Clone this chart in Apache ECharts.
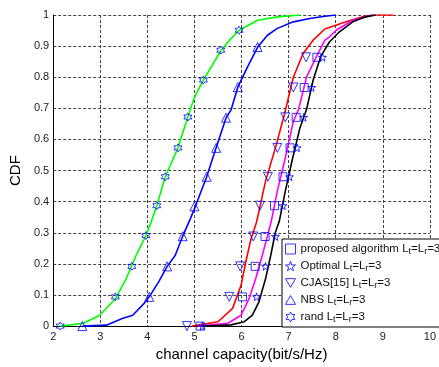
<!DOCTYPE html>
<html>
<head>
<meta charset="utf-8">
<script src="https://cdn.jsdelivr.net/npm/echarts@6/dist/echarts.min.js"></script>
<style>html,body{margin:0;padding:0;background:#fff}#c{width:439px;height:367px}</style>
</head>
<body>
<div id="c"></div>
<script>
// ---- data ----
var xTicks = [2,3,4,5,6,7,8,9,10];
var yTicks = [0,0.1,0.2,0.3,0.4,0.5,0.6,0.7,0.8,0.9,1];
var legendNames = ['proposed algorithm','Optimal','CJAS[15]','NBS','rand'];

// rand (green)
var randX = [2.15,2.64,2.99,3.32,3.55,3.76,3.97,4.08,4.20,4.38,4.65,4.86,4.98,5.08,5.19,5.56,5.78,5.95,6.34,6.76,7.25];
var randY = [0,0.009,0.035,0.088,0.152,0.227,0.291,0.335,0.387,0.48,0.573,0.672,0.727,0.759,0.791,0.885,0.925,0.951,0.983,0.994,1.0];
var randMkX = [2.15,3.32,3.67,3.97,4.20,4.38,4.65,4.86,5.19,5.56,5.95];
var randMkY = [0,0.094,0.192,0.291,0.387,0.48,0.573,0.672,0.791,0.887,0.951];

// NBS (blue)
var nbsX = [2.62,3.13,3.48,3.69,3.93,4.04,4.24,4.42,4.59,4.75,4.91,5.02,5.26,5.46,5.67,5.78,5.92,6.13,6.34,6.55,6.76,7.10,7.45,7.77,8.01];
var nbsY = [0,0.003,0.025,0.035,0.073,0.094,0.142,0.192,0.227,0.289,0.344,0.385,0.48,0.573,0.669,0.696,0.768,0.834,0.896,0.935,0.957,0.978,0.989,0.996,1.0];
var nbsMkX = [2.62,4.04,4.42,4.75,5.0,5.26,5.46,5.67,5.92,6.34];
var nbsMkY = [0,0.094,0.192,0.289,0.385,0.48,0.573,0.67,0.768,0.897];

// CJAS[15] (red)
var cjasX = [4.94,5.50,5.81,5.99,6.09,6.20,6.32,6.51,6.72,6.91,7.10,7.31,7.52,7.77,8.22,8.57,8.78,9.23];
var cjasY = [0,0.014,0.057,0.131,0.206,0.28,0.335,0.466,0.573,0.68,0.80,0.877,0.919,0.955,0.978,0.994,1.0,1.0];
var cjasMkX = [4.84,5.74,5.97,6.25,6.39,6.56,6.76,6.93,7.10,7.37];
var cjasMkY = [0,0.094,0.192,0.288,0.387,0.48,0.573,0.671,0.767,0.864];

// proposed algorithm (magenta)
var propX = [5.08,5.71,5.99,6.16,6.30,6.44,6.55,6.63,6.76,6.93,7.10,7.21,7.38,7.59,7.77,7.87,8.01,8.36,8.78];
var propY = [0,0.009,0.035,0.088,0.152,0.227,0.29,0.336,0.434,0.541,0.658,0.696,0.80,0.866,0.919,0.93,0.951,0.983,1.0];
var propMkX = [5.12,6.02,6.29,6.50,6.70,6.88,7.03,7.16,7.33,7.60];
var propMkY = [0,0.094,0.192,0.288,0.387,0.48,0.573,0.671,0.767,0.864];

// Optimal (black)
var optX = [5.15,5.78,6.06,6.23,6.37,6.51,6.62,6.72,6.80,6.93,7.07,7.24,7.38,7.52,7.68,7.87,8.08,8.36,8.64,8.85];
var optY = [0,0.004,0.014,0.035,0.078,0.152,0.227,0.302,0.336,0.434,0.53,0.637,0.696,0.79,0.866,0.914,0.946,0.978,0.994,1.0];
var optMkX = [5.17,6.32,6.51,6.72,6.88,7.02,7.18,7.32,7.49,7.72];
var optMkY = [0,0.094,0.192,0.288,0.387,0.48,0.573,0.671,0.767,0.864];

function zip(a,b){return a.map(function(v,i){return [v,b[i]];});}

var SYM_STAR = 'path://M50,0 L61,35 L98,35 L68,57 L79,91 L50,70 L21,91 L32,57 L2,35 L39,35 Z';
var SYM_HEX = 'path://M50,0 L64,25 L93,25 L79,50 L93,75 L64,75 L50,100 L36,75 L7,75 L21,50 L7,25 L36,25 Z';
var SYM_DOWN = 'path://M0,0 L100,0 L50,87 Z';
var SYM_UP = 'path://M50,0 L100,87 L0,87 Z';
var legendIcons = ['rect', SYM_STAR, SYM_DOWN, SYM_UP, SYM_HEX];

var mkStyle = {color:'rgba(255,255,255,0)', borderColor:'#0000ff', borderWidth:1};

function lineSeries(x,y,color){
  return {type:'line', data:zip(x,y), showSymbol:false, symbol:'none', z:3,
    lineStyle:{color:color,width:1.6}, itemStyle:{color:color}, silent:true};
}
function mkSeries(name,x,y,sym,size){
  return {type:'scatter', name:name, data:zip(x,y), symbol:sym, symbolSize:size, z:4,
    itemStyle:mkStyle};
}

var chart = echarts.init(document.getElementById('c'), null, {renderer:'canvas'});
var font = 'Liberation Sans, Arial, sans-serif';
chart.setOption({
  animation:false,
  backgroundColor:'#fff',
  grid:{left:53, right:5, top:15, bottom:39},
  xAxis:{type:'value', min:2, max:10, interval:1,
    name:'channel capacity(bit/s/Hz)', nameLocation:'middle', nameGap:17,
    nameTextStyle:{fontSize:15, color:'#000', fontFamily:font},
    axisLine:{show:true, onZero:false, lineStyle:{color:'#000', width:1}},
    axisTick:{show:false},
    axisLabel:{fontSize:11, color:'#222', fontFamily:font, margin:5},
    splitLine:{show:true, lineStyle:{color:'#444', type:[3,2], width:1}}
  },
  yAxis:{type:'value', min:0, max:1, interval:0.1,
    name:'CDF', nameLocation:'middle', nameGap:30, nameRotate:90,
    nameTextStyle:{fontSize:15, color:'#000', fontFamily:font},
    axisLine:{show:true, lineStyle:{color:'#000', width:1}},
    axisTick:{show:false},
    axisLabel:{fontSize:11, color:'#222', fontFamily:font, margin:4,
      formatter:function(v){return (Math.round(v*10)/10).toString();}},
    splitLine:{show:true, lineStyle:{color:'#444', type:[3,2], width:1}}
  },
  legend:{
    data:legendNames.map(function(n,i){
      return {name:n, icon:legendIcons[i],
        itemStyle:{color:'rgba(255,255,255,0)', borderColor:'#0000ff', borderWidth:1}};
    }),
    orient:'vertical', left:282, top:239,
    backgroundColor:'#fff', borderColor:'#000', borderWidth:1,
    padding:[3,6,3,3], itemGap:3, itemWidth:10, itemHeight:10,
    selectedMode:false,
    textStyle:{fontSize:11.5, color:'#111', fontFamily:font, lineHeight:14,
      rich:{s:{fontSize:9, color:'#111', fontFamily:font, lineHeight:14, padding:[5,0,0,0]}}},
    formatter:function(n){return n+' L{s|t}=L{s|r}=3';}
  },
  series:[
    lineSeries(randX,randY,'#00ff00'),
    lineSeries(nbsX,nbsY,'#0000ff'),
    lineSeries(cjasX,cjasY,'#ff0000'),
    lineSeries(propX,propY,'#ff00ff'),
    lineSeries(optX,optY,'#000000'),
    mkSeries('proposed algorithm',propMkX,propMkY,'rect',8),
    mkSeries('Optimal',optMkX,optMkY,SYM_STAR,8),
    mkSeries('CJAS[15]',cjasMkX,cjasMkY,SYM_DOWN,9),
    mkSeries('NBS',nbsMkX,nbsMkY,SYM_UP,9),
    mkSeries('rand',randMkX,randMkY,SYM_HEX,8)
  ]
});
</script>
</body>
</html>
